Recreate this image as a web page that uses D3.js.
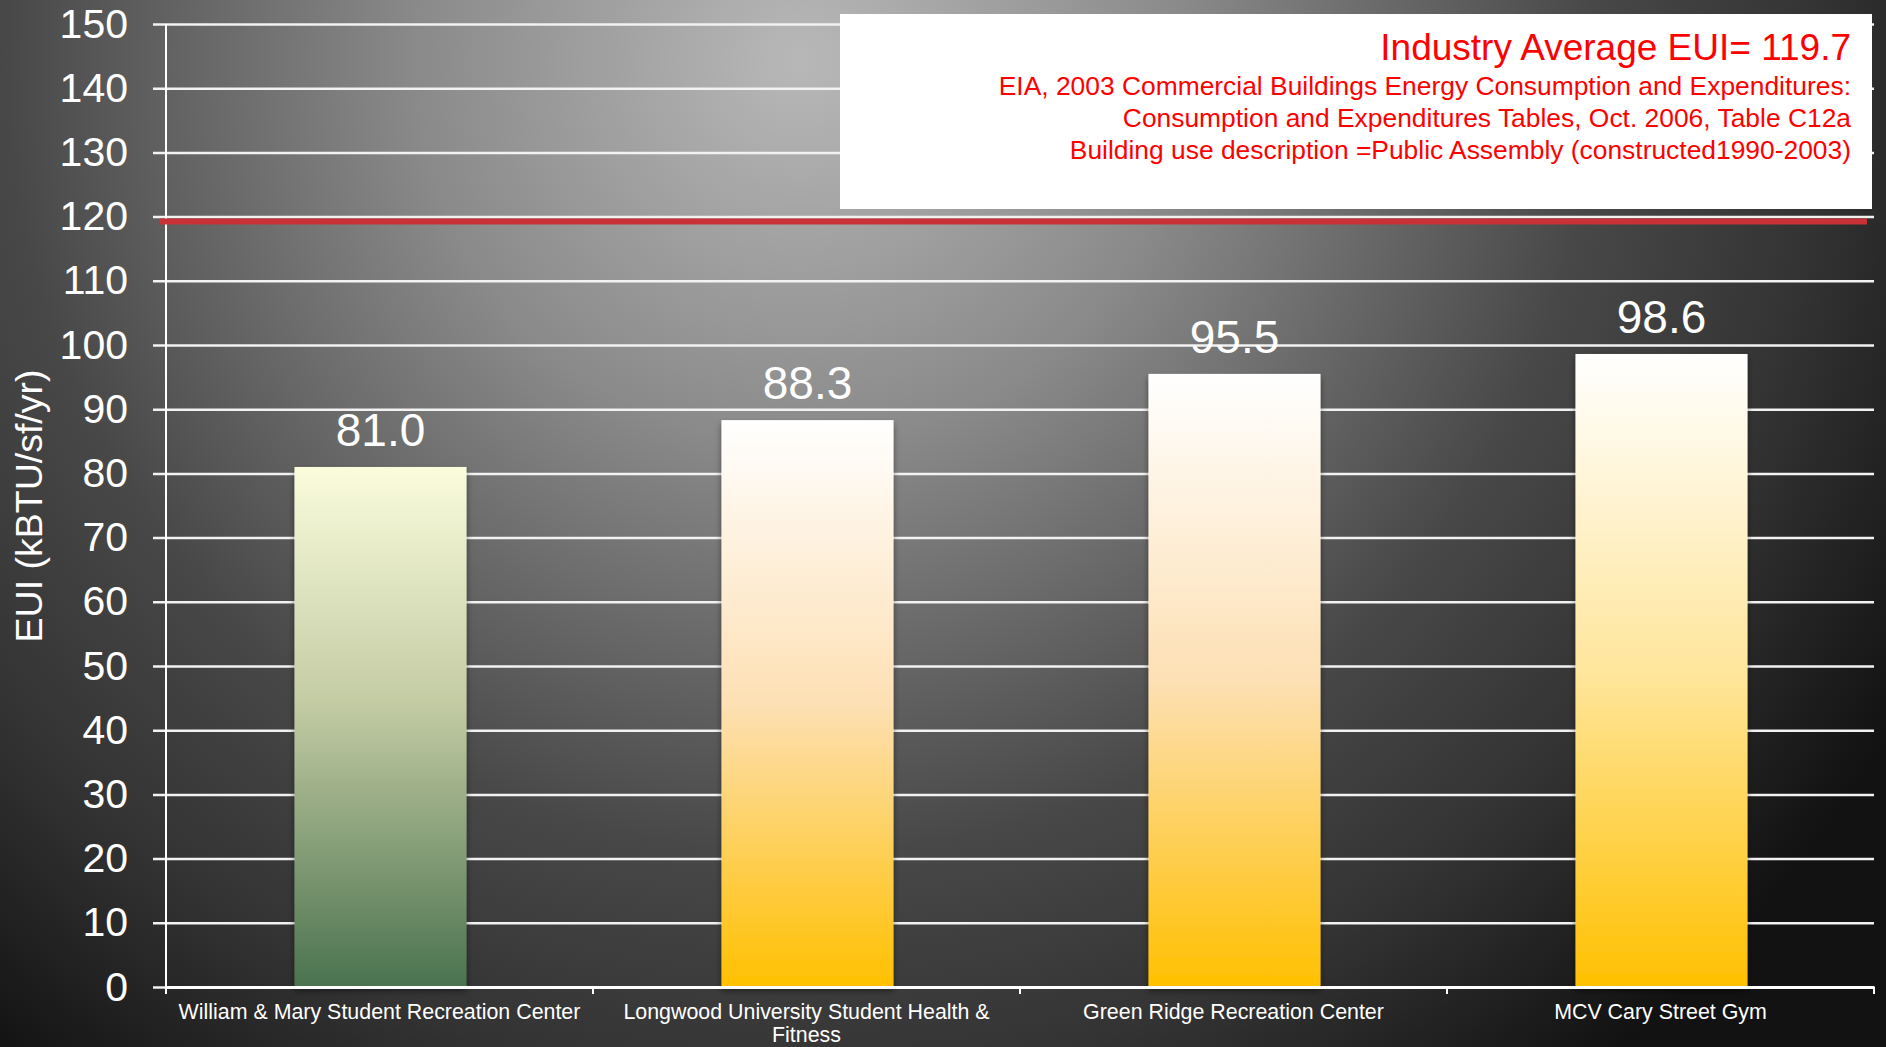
<!DOCTYPE html>
<html>
<head>
<meta charset="utf-8">
<script src="https://cdn.jsdelivr.net/npm/d3@7"></script>
<style>
  html, body { margin: 0; padding: 0; background: #222; }
  svg { display: block; font-family: "Liberation Sans", Arial, sans-serif; }
</style>
</head>
<body>
<div id="chart"></div>
<script>
// bar data
const buildings = [
  'William & Mary Student Recreation Center',
  'Longwood University Student Health & Fitness',
  'Green Ridge Recreation Center',
  'MCV Cary Street Gym'
]
const eui = [81.0, 88.3, 95.5, 98.6]
const barFills = ['green', 'peach', 'peach', 'gold']

const yTicks = [0, 10, 20, 30, 40, 50, 60, 70, 80, 90, 100, 110, 120, 130, 140, 150]
const industryAvg = 119.7
const noteTitle = 'Industry Average EUI= 119.7'
const noteLines = [
  'EIA, 2003 Commercial Buildings Energy Consumption and Expenditures:',
  'Consumption and Expenditures Tables, Oct. 2006, Table C12a',
  'Building use description =Public Assembly (constructed1990-2003)'
]

const W = 1886, H = 1047
const margin = {top: 24, right: 12, bottom: 60, left: 166}

const svg = d3.select('#chart')
  .append('svg')
  .attr('width', W)
  .attr('height', H)

const defs = svg.append('defs')

// background glow
const bg = defs.append('radialGradient')
  .attr('id', 'bg')
  .attr('gradientUnits', 'userSpaceOnUse')
  .attr('cx', 800).attr('cy', 60).attr('r', 1280)
bg.selectAll('stop')
  .data([[0, '#b8b8b8'], [0.3, '#8a8a8a'], [0.62, '#484848'], [0.8, '#333333'], [1, '#121212']])
  .enter().append('stop')
  .attr('offset', d => d[0])
  .attr('stop-color', d => d[1])

// bar gradients
const grads = {
  green: [[0, '#fafcdc'], [0.45, '#c4cca4'], [1, '#4a724e']],
  peach: [[0, '#ffffff'], [0.5, '#fde0b4'], [1, '#ffc000']],
  gold: [[0, '#ffffff'], [0.5, '#ffe69c'], [1, '#ffc000']]
}
Object.keys(grads).forEach(k => {
  defs.append('linearGradient')
    .attr('id', 'bar-' + k)
    .attr('x1', 0).attr('y1', 0).attr('x2', 0).attr('y2', 1)
    .selectAll('stop')
    .data(grads[k])
    .enter().append('stop')
    .attr('offset', d => d[0])
    .attr('stop-color', d => d[1])
})

const shadow = defs.append('filter')
  .attr('id', 'shadow')
  .attr('x', '-10%').attr('y', '-10%').attr('width', '120%').attr('height', '120%')
shadow.append('feDropShadow')
  .attr('dx', 0).attr('dy', 4).attr('stdDeviation', 3)
  .attr('flood-color', '#000').attr('flood-opacity', 0.45)

svg.append('rect')
  .attr('width', W).attr('height', H)
  .attr('fill', 'url(#bg)')

const x = d3.scaleBand()
  .domain(buildings)
  .range([margin.left, W - margin.right])
  .padding(0)

const y = d3.scaleLinear()
  .domain([0, 150])
  .range([H - margin.bottom, margin.top])

// gridlines + y labels
const yAxis = svg.append('g')
  .attr('transform', `translate(${margin.left},0)`)
  .call(d3.axisLeft(y)
    .tickValues(yTicks)
    .tickSize(-(W - margin.right - margin.left))
    .tickSizeOuter(0)
    .tickPadding(38))
yAxis.select('.domain').remove()
yAxis.selectAll('.tick line')
  .attr('x1', -13)
  .attr('stroke', '#f2f2f2')
  .attr('stroke-width', 2.5)
yAxis.selectAll('.tick text')
  .attr('fill', '#ffffff')
  .attr('font-size', 41)
  .attr('font-family', '"Liberation Sans", Arial, sans-serif')

// y axis line
svg.append('line')
  .attr('x1', margin.left).attr('x2', margin.left)
  .attr('y1', y(150)).attr('y2', y(0))
  .attr('stroke', '#ffffff')
  .attr('stroke-width', 2)

// bars
const bw = x.bandwidth() * 0.403
svg.selectAll('.bar')
  .data(eui)
  .enter()
  .append('rect')
  .attr('class', 'bar')
  .attr('x', (d, i) => x(buildings[i]) + x.bandwidth() / 2 - bw / 2 + 1)
  .attr('y', d => y(d))
  .attr('width', bw)
  .attr('height', d => y(0) - y(d))
  .attr('fill', (d, i) => `url(#bar-${barFills[i]})`)
  .attr('filter', 'url(#shadow)')

// value labels
svg.selectAll('.val')
  .data(eui)
  .enter()
  .append('text')
  .attr('class', 'val')
  .attr('x', (d, i) => x(buildings[i]) + x.bandwidth() / 2 + 1)
  .attr('y', d => y(d) - 21)
  .attr('text-anchor', 'middle')
  .attr('fill', '#ffffff')
  .attr('font-size', 46)
  .text(d => d.toFixed(1))

// x axis
const xAxis = svg.append('g')
  .attr('transform', `translate(0,${y(0)})`)
  .call(d3.axisBottom(x).tickSize(0).tickPadding(0))
xAxis.select('.domain')
  .attr('stroke', '#ffffff')
  .attr('stroke-width', 3)
xAxis.selectAll('.tick text').remove()
// category boundary ticks
const bounds = buildings.map(b => x(b)).concat([W - margin.right])
xAxis.selectAll('.bound')
  .data(bounds)
  .enter()
  .append('line')
  .attr('class', 'bound')
  .attr('x1', d => d).attr('x2', d => d)
  .attr('y1', 0).attr('y2', 7)
  .attr('stroke', '#ffffff')
  .attr('stroke-width', 2)

// x labels, wrapped like the original
const labelWidth = 420
xAxis.selectAll('.xlab')
  .data(buildings)
  .enter()
  .append('text')
  .attr('class', 'xlab')
  .attr('fill', '#ffffff')
  .attr('font-size', 21.4)
  .attr('text-anchor', 'middle')
  .each(function(d) {
    const t = d3.select(this)
    const cx = x(d) + x.bandwidth() / 2
    const words = d.split(' ')
    let line = []
    let lines = []
    const tmp = t.append('tspan')
    words.forEach(w => {
      line.push(w)
      tmp.text(line.join(' '))
      if (tmp.node().getComputedTextLength() > labelWidth && line.length > 1) {
        line.pop()
        lines.push(line.join(' '))
        line = [w]
      }
    })
    lines.push(line.join(' '))
    tmp.remove()
    lines.forEach((l, i) => {
      t.append('tspan')
        .attr('x', cx)
        .attr('y', 32 + i * 23)
        .text(l)
    })
  })

// industry average line
svg.append('line')
  .attr('x1', margin.left - 6)
  .attr('x2', W - 19)
  .attr('y1', y(industryAvg) + 3)
  .attr('y2', y(industryAvg) + 3)
  .attr('stroke', '#c83236')
  .attr('stroke-width', 6)

// note box
svg.append('rect')
  .attr('x', 840).attr('y', 14)
  .attr('width', 1032).attr('height', 195)
  .attr('fill', '#ffffff')

svg.append('text')
  .attr('x', 1851).attr('y', 60)
  .attr('text-anchor', 'end')
  .attr('fill', '#ff0000')
  .attr('font-size', 37)
  .text(noteTitle)

svg.selectAll('.note')
  .data(noteLines)
  .enter()
  .append('text')
  .attr('class', 'note')
  .attr('x', 1851)
  .attr('y', (d, i) => 95 + i * 32)
  .attr('text-anchor', 'end')
  .attr('fill', '#ff0000')
  .attr('font-size', 26.4)
  .text(d => d)

// y title
svg.append('text')
  .attr('transform', 'translate(42,506) rotate(-90)')
  .attr('text-anchor', 'middle')
  .attr('fill', '#ffffff')
  .attr('font-size', 37.5)
  .text('EUI (kBTU/sf/yr)')
</script>
</body>
</html>
